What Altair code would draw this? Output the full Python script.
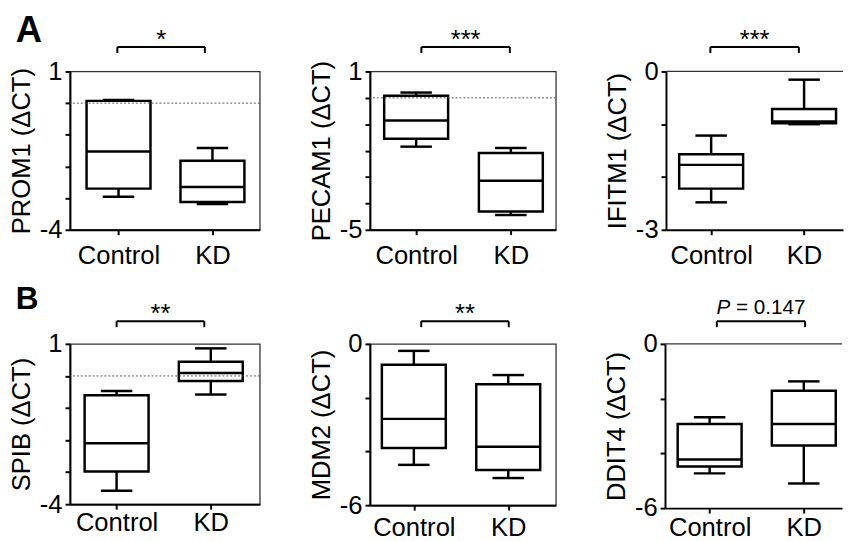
import altair as alt
import pandas as pd

FONT = "Liberation Sans"
FS = 26

groups = ["Control", "KD"]
genes = ["PROM1", "PECAM1", "IFITM1", "SPIB", "MDM2", "DDIT4"]
significance = ["*", "***", "***", "**", "**", "P = 0.147"]

# five-number summaries per gene, [Control, KD]
whisker_low = [[-2.96, -3.19], [-1.85, -4.44], [-2.48, -1.00], [-3.58, -0.58], [-4.50, -4.99], [-4.73, -5.10]]
quartile_1 = [[-2.70, -3.12], [-1.55, -4.31], [-2.22, -0.98], [-2.98, -0.16], [-3.87, -4.69], [-4.48, -3.71]]
median = [[-1.53, -2.65], [-0.86, -3.14], [-1.77, -0.95], [-2.10, 0.09], [-2.79, -3.83], [-4.22, -2.93]]
quartile_3 = [[0.07, -1.82], [0.08, -2.09], [-1.57, -0.71], [-0.60, 0.44], [-0.78, -1.50], [-2.93, -1.71]]
whisker_high = [[0.10, -1.42], [0.20, -1.90], [-1.215, -0.156], [-0.47, 0.86], [-0.26, -1.16], [-2.68, -1.37]]

y_min = [-4, -5, -3, -4, -6, -6]
y_max = [1, 1, 0, 1, 0, 0]
y_step = [1, 1, 1, 1, 2, 2]

# layout / style per panel
LAYOUT = [
    dict(width=193, height=161, xdom=[-0.517, 1.504], by=-24.8, bl=-1.2, br=-7.7, lp=8, letter="A", lfs=37, ly=-29.8, open_right=False),
    dict(width=189, height=161, xdom=[-0.488, 1.475], by=-24.8, bl=5.3, br=-1.0, lp=8, letter=None, lfs=0, ly=0, open_right=False),
    dict(width=180, height=161, xdom=[-0.486, 1.419], by=-24.8, bl=-0.8, br=-5.3, lp=8, letter=None, lfs=0, ly=0, open_right=True),
    dict(width=193, height=163, xdom=[-0.495, 1.52], by=-23, bl=0.0, br=-6.6, lp=0.5, letter="B", lfs=32, ly=-35, open_right=False),
    dict(width=189, height=164, xdom=[-0.465, 1.504], by=-23, bl=7.5, br=0.5, lp=5, letter=None, lfs=0, ly=0, open_right=False),
    dict(width=180, height=167, xdom=[-0.474, 1.406], by=-23, bl=7.3, br=1.3, lp=2, letter=None, lfs=0, ly=0, open_right=True),
]

BOX_HALF = 32.5
CAP_HALF = 16
LW = 2.5


def make_panel(i):
    lay = LAYOUT[i]
    df = pd.DataFrame({
        "group": groups,
        "pos": [0, 1],
        "wlo": whisker_low[i],
        "q1": quartile_1[i],
        "med": median[i],
        "q3": quartile_3[i],
        "whi": whisker_high[i],
    })
    lo, hi, st = y_min[i], y_max[i], y_step[i]
    title = f"{genes[i]} (ΔCT)"
    xs = alt.Scale(domain=lay["xdom"], nice=False, zero=False)
    ys = alt.Scale(domain=[lo, hi], nice=False, zero=False)
    x_axis = alt.Axis(
        values=[0, 1],
        labelExpr=f"datum.value == 0 ? '{groups[0]}' : '{groups[1]}'",
        title=None, grid=False, tickSize=5, tickWidth=2, domainWidth=2,
        labelPadding=lay["lp"], labelFlush=False, labelOverlap=False,
    )
    y_axis = alt.Axis(
        values=list(range(lo, hi + 1, st)),
        labelExpr=f"datum.value == {lo} ? '{lo}' : (datum.value == {hi} ? '{hi}' : '')",
        title=title, grid=False, tickSize=5, tickWidth=2, domainWidth=2,
        labelPadding=3, titlePadding=5, labelOverlap=False, labelFlush=False,
    )

    def X(field):
        return alt.X(field, scale=xs, axis=x_axis, title=None)

    def Y(field):
        return alt.Y(field, scale=ys, axis=y_axis, title=title)

    base = alt.Chart(df)
    whisk = base.mark_rule(color="black", strokeWidth=LW).encode(
        x=X("pos:Q"), y=Y("wlo:Q"), y2="whi:Q")
    cap_lo = base.mark_rule(color="black", strokeWidth=LW, xOffset=-CAP_HALF, x2Offset=CAP_HALF).encode(
        x=X("pos:Q"), x2="pos:Q", y=Y("wlo:Q"))
    cap_hi = base.mark_rule(color="black", strokeWidth=LW, xOffset=-CAP_HALF, x2Offset=CAP_HALF).encode(
        x=X("pos:Q"), x2="pos:Q", y=Y("whi:Q"))
    box = base.mark_rect(fill="white", stroke="black", strokeWidth=LW, xOffset=-BOX_HALF, x2Offset=BOX_HALF).encode(
        x=X("pos:Q"), x2="pos:Q", y=Y("q1:Q"), y2="q3:Q")
    med = base.mark_rule(color="black", strokeWidth=LW, xOffset=-BOX_HALF, x2Offset=BOX_HALF).encode(
        x=X("pos:Q"), x2="pos:Q", y=Y("med:Q"))
    layers = [whisk, cap_lo, cap_hi, box, med]

    if lo < 0 < hi:
        zero = alt.Chart(pd.DataFrame({"ref": [0]})).mark_rule(
            color="#555", strokeWidth=1, strokeDash=[2, 2]).encode(y=Y("ref:Q"))
        layers.append(zero)

    if lay["open_right"]:
        top = alt.Chart(pd.DataFrame({"ref": [0]})).mark_rule(
            color="#333", strokeWidth=1.3).encode(y=alt.value(0))
        layers.append(top)

    # significance bracket
    sig = significance[i]
    bdf = pd.DataFrame({"start": [0], "end": [1], "mid": [0.5], "label": [sig]})
    bch = alt.Chart(bdf)
    by = lay["by"]
    hline = bch.mark_rule(color="black", strokeWidth=2, xOffset=lay["bl"], x2Offset=lay["br"]).encode(
        x=X("start:Q"), x2="end:Q", y=alt.value(by))
    leg_l = bch.mark_rule(color="black", strokeWidth=2, xOffset=lay["bl"]).encode(
        x=X("start:Q"), y=alt.value(by), y2=alt.value(by + 6))
    leg_r = bch.mark_rule(color="black", strokeWidth=2, xOffset=lay["br"]).encode(
        x=X("end:Q"), y=alt.value(by), y2=alt.value(by + 6))
    layers += [hline, leg_l, leg_r]
    mid_dx = (lay["bl"] + lay["br"]) / 2
    if sig.startswith("P"):
        fs = 21
        split_dx = mid_dx - 45.25 + 14
        t1 = bch.transform_calculate(t="substring(datum.label, 0, 1)").mark_text(
            font=FONT, fontSize=fs, fontStyle="italic", align="right", baseline="alphabetic", dx=split_dx).encode(
            x=X("mid:Q"), y=alt.value(by - 7.7), text="t:N")
        t2 = bch.transform_calculate(t="trim(substring(datum.label, 1))").mark_text(
            font=FONT, fontSize=fs, align="left", baseline="alphabetic", dx=split_dx + 5.8).encode(
            x=X("mid:Q"), y=alt.value(by - 7.7), text="t:N")
        layers += [t1, t2]
    else:
        t = bch.mark_text(font=FONT, fontSize=FS, align="center", baseline="alphabetic", dx=mid_dx).encode(
            x=X("mid:Q"), y=alt.value(by + 0.5), text="label:N")
        layers.append(t)

    if lay["letter"]:
        let = alt.Chart(pd.DataFrame({"letter": [lay["letter"]]})).mark_text(
            font=FONT, fontSize=lay["lfs"], fontWeight="bold", align="left", baseline="alphabetic").encode(
            x=alt.value(-55), y=alt.value(lay["ly"]), text="letter:N")
        layers.append(let)

    ch = alt.layer(*layers).properties(width=lay["width"], height=lay["height"])
    if lay["open_right"]:
        ch = ch.properties(view=alt.ViewBackground(strokeOpacity=0))
    return ch


row1 = alt.hconcat(make_panel(0), make_panel(1), make_panel(2), spacing=47)
row2 = alt.hconcat(make_panel(3), make_panel(4), make_panel(5), spacing=47)

chart = alt.vconcat(row1, row2, spacing=14).properties(
    padding={"left": 0, "top": -1, "right": 0, "bottom": 0}
).configure_view(
    stroke="#333", strokeWidth=1.3
).configure_axis(
    labelFont=FONT, titleFont=FONT, labelFontSize=FS, titleFontSize=FS,
    labelColor="black", titleColor="black", titleFontWeight="normal",
    domainColor="black", tickColor="black", grid=False,
).configure_text(font=FONT)

chart.save("out.html", embed_options={"renderer": "svg", "actions": False})
